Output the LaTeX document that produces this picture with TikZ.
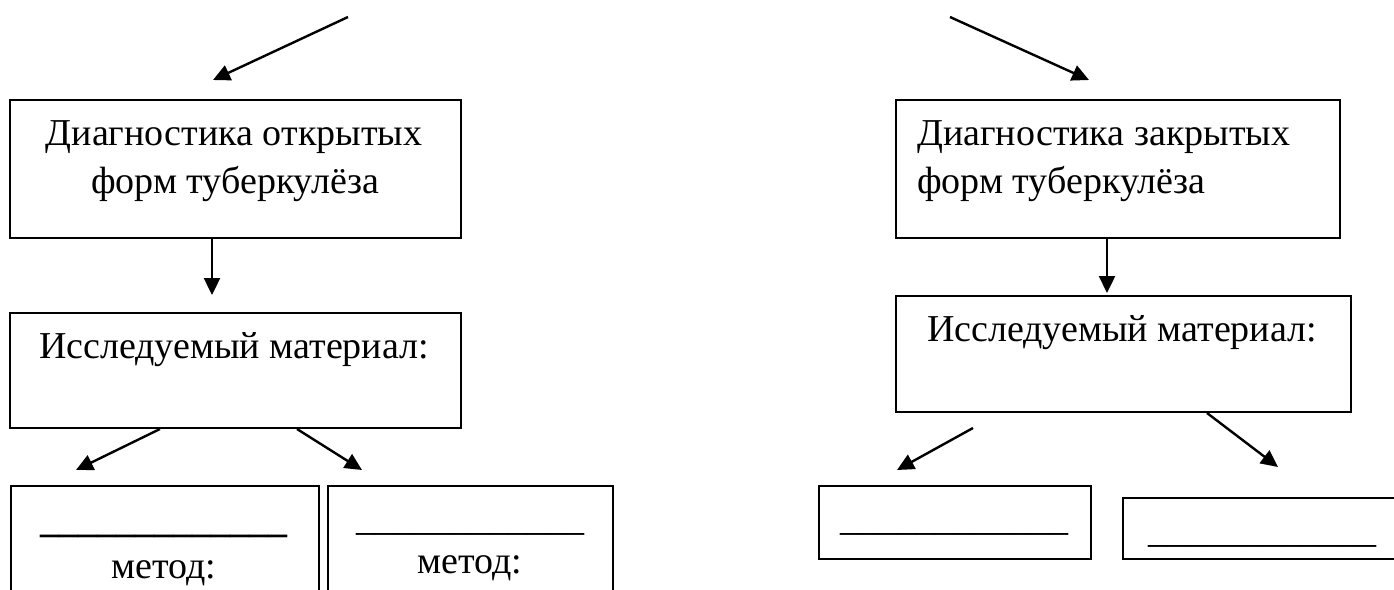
\documentclass[tikz,border=0pt]{standalone}
\usepackage{fontspec}
\setmainfont{Liberation Serif}
\usetikzlibrary{arrows.meta}
\begin{document}
\begin{tikzpicture}[x=1pt,y=-1pt,
  box/.style={draw, line width=2pt, anchor=north west, inner sep=0pt},
  conn/.style={line width=2.4pt, -{Triangle[length=17pt,width=16pt]}},
  txt/.style={anchor=base, inner sep=0pt, font=\fontsize{38}{48}\selectfont},
  txtl/.style={txt, anchor=base west},
]
\useasboundingbox (0,0) rectangle (1394,589);
\begin{scope}
\clip (0,0) rectangle (1394,589);

% --- boxes ---
\node[box, minimum width=451pt, minimum height=138pt] (openD)   at (9,99)   {};
\node[box, minimum width=444pt, minimum height=138pt] (closedD) at (895,99) {};
\node[box, minimum width=451pt, minimum height=115pt] (openM)   at (9,312)  {};
\node[box, minimum width=455pt, minimum height=116pt] (closedM) at (895,295) {};
\node[box, minimum width=308pt, minimum height=130pt] (mA) at (10,485)  {};
\node[box, minimum width=285pt, minimum height=130pt] (mB) at (327,485) {};
\node[box, minimum width=272pt, minimum height=73pt]  (mC) at (818,485) {};
\node[box, minimum width=320pt, minimum height=61pt]  (mD) at (1122,497) {};

% --- texts ---
\node[txt]  (o1) at (234,145) {Диагностика открытых};
\node[txt]  (o2) at (235,193) {форм туберкулёза};
\node[txtl] (c1) at (917,145) {Диагностика закрытых};
\node[txtl] (c2) at (917,193) {форм туберкулёза};
\node[txt]  (om) at (234,358) {Исследуемый материал:};
\node[txt]  (cm) at (1122,341) {Исследуемый материал:};

\node[txt] (uA) at (164,532) {\textbf{\_\_\_\_\_\_\_\_\_\_\_\_\_}};
\node[txt] (tA) at (164,578) {метод:};
\node[txt] (uB) at (470,530) {\_\_\_\_\_\_\_\_\_\_\_\_};
\node[txt] (tB) at (470,573) {метод:};
\node[txt] (uC) at (954,530) {\_\_\_\_\_\_\_\_\_\_\_\_};
\node[txt] (uD) at (1262,542) {\_\_\_\_\_\_\_\_\_\_\_\_};

% --- connector end points ---
\coordinate (s1) at (348,17);   \coordinate (t1) at (213,80);
\coordinate (s2) at (950,17);   \coordinate (t2) at (1089,80);
\coordinate (d1) at (212,295);
\coordinate (d2) at (1107,293);
\coordinate (a1) at (160,0);    \coordinate (ta1) at (76,470);
\coordinate (a2) at (297,0);    \coordinate (ta2) at (362,470);
\coordinate (b1) at (973,428);  \coordinate (tb1) at (897,470);
\coordinate (b2) at (1207,0);   \coordinate (tb2) at (1278,467);

% --- connectors ---
\draw[conn] (s1) -- (t1);
\draw[conn] (s2) -- (t2);
\draw[conn] (openD.south -| d1) -- (d1);
\draw[conn] (closedD.south -| d2) -- (d2);
\draw[conn] (openM.south -| a1) -- (ta1);
\draw[conn] (openM.south -| a2) -- (ta2);
\draw[conn] (b1) -- (tb1);
\draw[conn] (closedM.south -| b2) -- (tb2);
\end{scope}
\end{tikzpicture}
\end{document}
